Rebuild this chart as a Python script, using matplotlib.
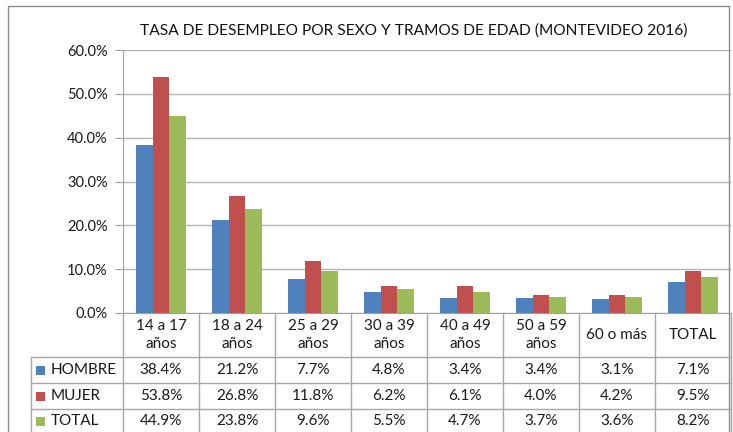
import matplotlib
matplotlib.use("Agg")
import matplotlib.pyplot as plt
import matplotlib.transforms as mtransforms
from matplotlib.lines import Line2D
from matplotlib.patches import Rectangle
import numpy as np

plt.rcParams['font.family'] = ['Lato', 'DejaVu Sans']

# data
categorias = ['14 a 17\naños', '18 a 24\naños', '25 a 29\naños', '30 a 39\naños',
              '40 a 49\naños', '50 a 59\naños', '60 o más', 'TOTAL']
series = ['HOMBRE', 'MUJER', 'TOTAL']
hombre = [38.4, 21.2, 7.7, 4.8, 3.4, 3.4, 3.1, 7.1]
mujer = [53.8, 26.8, 11.8, 6.2, 6.1, 4.0, 4.2, 9.5]
total = [44.9, 23.8, 9.6, 5.5, 4.7, 3.7, 3.6, 8.2]
colores = ['#4F81BD', '#C0504D', '#9BBB59']

W, H = 733, 432
fig = plt.figure(figsize=(W / 100, H / 100), dpi=100)

def fx(px):
    return px / W

def fy(py):
    return (H - py) / H

# plot area in pixels
left, right, top, bottom = 123, 731, 50, 313
ax = fig.add_axes([fx(left), fy(bottom), fx(right - left), (bottom - top) / H])

x = np.arange(len(categorias))
w = 1 / 4.5
for i, vals in enumerate([hombre, mujer, total]):
    ax.bar(x + (i - 1) * w, np.array(vals) / 100, width=w, color=colores[i], zorder=3)

ax.set_xlim(-0.5, len(categorias) - 0.5)
ax.set_ylim(0, 0.6)
ax.set_yticks(np.arange(0, 0.61, 0.1))
ax.set_yticklabels(['%.1f%%' % (v * 100) for v in np.arange(0, 0.61, 0.1)], fontsize=10.5, color='#1a1a1a')
ax.set_xticks([])
ax.yaxis.grid(True, color='#B4B4B4', linewidth=1.0, zorder=0)
ax.tick_params(axis='y', length=6, color='#A0A0A0', pad=5)
for s in ['top', 'right']:
    ax.spines[s].set_visible(False)
ax.spines['left'].set_color('#A0A0A0')
ax.spines['bottom'].set_color('#A0A0A0')

fig.text(fx(414), fy(31), 'TASA DE DESEMPLEO POR SEXO Y TRAMOS DE EDAD (MONTEVIDEO 2016)',
         ha='center', va='center', fontsize=11.2, color='#111111')

# data table below the chart
trans = mtransforms.blended_transform_factory(ax.transData, fig.transFigure)
lc = '#A6A6A6'
row_lines = [357, 383, 409]
for k in range(len(categorias) + 1):
    fig.add_artist(Line2D([k - 0.5, k - 0.5], [fy(bottom), fy(H + 5)], transform=trans,
                          color=lc, linewidth=1.0))
for ry in row_lines:
    fig.add_artist(Line2D([fx(31), fx(right)], [fy(ry), fy(ry)], transform=fig.transFigure,
                          color=lc, linewidth=1.0))
fig.add_artist(Line2D([fx(31), fx(31)], [fy(357), fy(H + 5)], transform=fig.transFigure,
                      color=lc, linewidth=1.0))

for k, cat in enumerate(categorias):
    fig.text(k, fy(335), cat, transform=trans, ha='center', va='center',
             fontsize=11, color='#1a1a1a', linespacing=1.3)

row_centers = [370, 396, 421]
for i, vals in enumerate([hombre, mujer, total]):
    yc = fy(row_centers[i])
    fig.add_artist(Rectangle((fx(36), yc - 4.5 / H), 9 / W, 9 / H, transform=fig.transFigure,
                             facecolor=colores[i], edgecolor='none'))
    fig.text(fx(51), yc, series[i], ha='left', va='center', fontsize=11, color='#1a1a1a')
    for k, v in enumerate(vals):
        fig.text(k, yc, '%.1f%%' % v, transform=trans, ha='center', va='center',
                 fontsize=11, color='#1a1a1a')

# outer chart border
fig.add_artist(Rectangle((fx(8), fy(H + 5)), fx(729 - 8), (H + 5 - 6) / H, transform=fig.transFigure,
                         facecolor='none', edgecolor='#8C8C8C', linewidth=1.0))

fig.savefig('out.png', dpi=100)
